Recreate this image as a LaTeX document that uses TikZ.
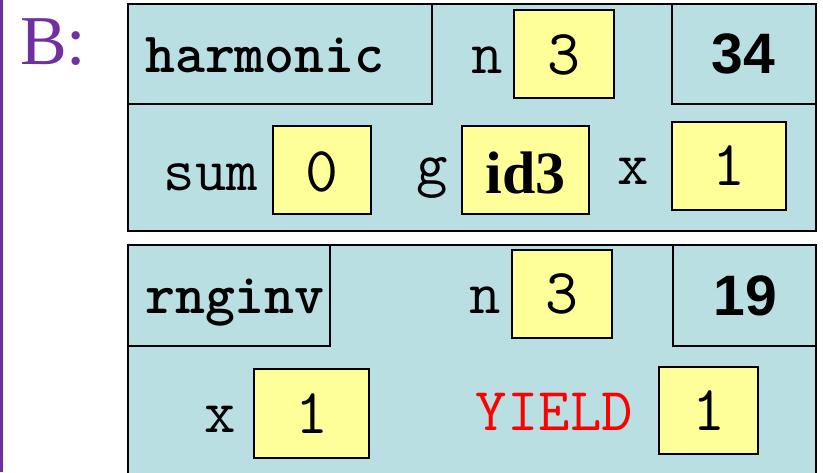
\documentclass[tikz,border=0pt]{standalone}
\usepackage{fontspec}
\newfontfamily\timesf{Liberation Serif}
\newfontfamily\arialf{Liberation Sans}
\definecolor{frameblue}{RGB}{185,223,227}
\definecolor{valyellow}{RGB}{255,255,153}
\definecolor{bpurple}{RGB}{112,48,160}
\definecolor{yieldred}{RGB}{255,0,0}
\tikzset{
  framebox/.style={draw=black, fill=frameblue, line width=1.5pt, inner sep=0pt},
  valbox/.style={draw=black, fill=valyellow, line width=1.5pt, inner sep=0pt},
  fname/.style={anchor=base west, inner sep=0pt, font=\fontsize{57}{60}\selectfont\ttfamily\bfseries\addfontfeatures{FakeBold=6}},
  lbl/.style={anchor=base, inner sep=0pt, font=\fontsize{61}{64}\selectfont\ttfamily\addfontfeatures{FakeBold=1.5}},
  val/.style={anchor=base, inner sep=0pt, font=\fontsize{64}{68}\selectfont\ttfamily\addfontfeatures{FakeBold=1.5}},
  ret/.style={anchor=base, inner sep=0pt, font=\fontsize{57}{60}\selectfont\arialf\bfseries},
}
\begin{document}
\begin{tikzpicture}[x=1pt,y=-1pt]
\useasboundingbox (0,0) rectangle (823,472);
\clip (0,0) rectangle (823,472);
% left purple bar and label
\draw[bpurple, line width=3pt] (1.5,0) -- (1.5,472);
\node[anchor=base west, inner sep=0pt, text=bpurple, font=\fontsize{70}{74}\selectfont\timesf] (B) at (20,64) {B:};

% ---------- frame 1 ----------
\node[framebox, minimum width=688pt, minimum height=227pt] (f1) at (472,117.5) {};
\node[framebox, minimum width=304pt, minimum height=100pt] (h1) at (280,54) {};
\node[framebox, minimum width=144pt, minimum height=100pt] (r1) at (744,54) {};
\node[fname] (h1t) at (145,72) {harmonic};
\node[ret] (r1t) at (743.5,73) {34};
\node[lbl] (n1l) at (487,73) {n};
\node[valbox, minimum width=100pt, minimum height=88pt] (n1b) at (564,54) {};
\node[val] (n1v) at (564,74) {3};
\node[lbl] (s1l) at (211,190) {sum};
\node[valbox, minimum width=98pt, minimum height=88pt] (s1b) at (322,170) {};
\node[val] (s1v) at (322,191) {0};
\node[lbl] (g1l) at (432,184) {g};
\node[valbox, minimum width=127pt, minimum height=88pt] (g1b) at (525.5,170) {};
\node[anchor=base, inner sep=0pt, font=\fontsize{60}{64}\selectfont\timesf\bfseries] (g1v) at (525.5,193) {id3};
\node[lbl] (x1l) at (633,184) {x};
\node[valbox, minimum width=114pt, minimum height=88pt] (x1b) at (729,166) {};
\node[val] (x1v) at (729,185) {1};

% ---------- frame 2 ----------
\node[framebox, minimum width=688pt, minimum height=245pt] (f2) at (472,367.5) {};
\node[framebox, minimum width=202pt, minimum height=101pt] (h2) at (229,295.5) {};
\node[framebox, minimum width=143pt, minimum height=101pt] (r2) at (744.5,295.5) {};
\node[fname] (h2t) at (145,313) {rnginv};
\node[ret] (r2t) at (745.5,315) {19};
\node[lbl] (n2l) at (485,313) {n};
\node[valbox, minimum width=100pt, minimum height=88pt] (n2b) at (562,294) {};
\node[val] (n2v) at (562,313) {3};
\node[lbl] (x2l) at (220,432) {x};
\node[valbox, minimum width=115pt, minimum height=89pt] (x2b) at (311.5,413.5) {};
\node[val] (x2v) at (311.5,433) {1};
\node[lbl, text=yieldred] (y2l) at (554.5,430) {YIELD};
\node[valbox, minimum width=99pt, minimum height=87pt] (y2b) at (708.5,410.5) {};
\node[val] (y2v) at (708.5,430) {1};
\end{tikzpicture}
\end{document}
